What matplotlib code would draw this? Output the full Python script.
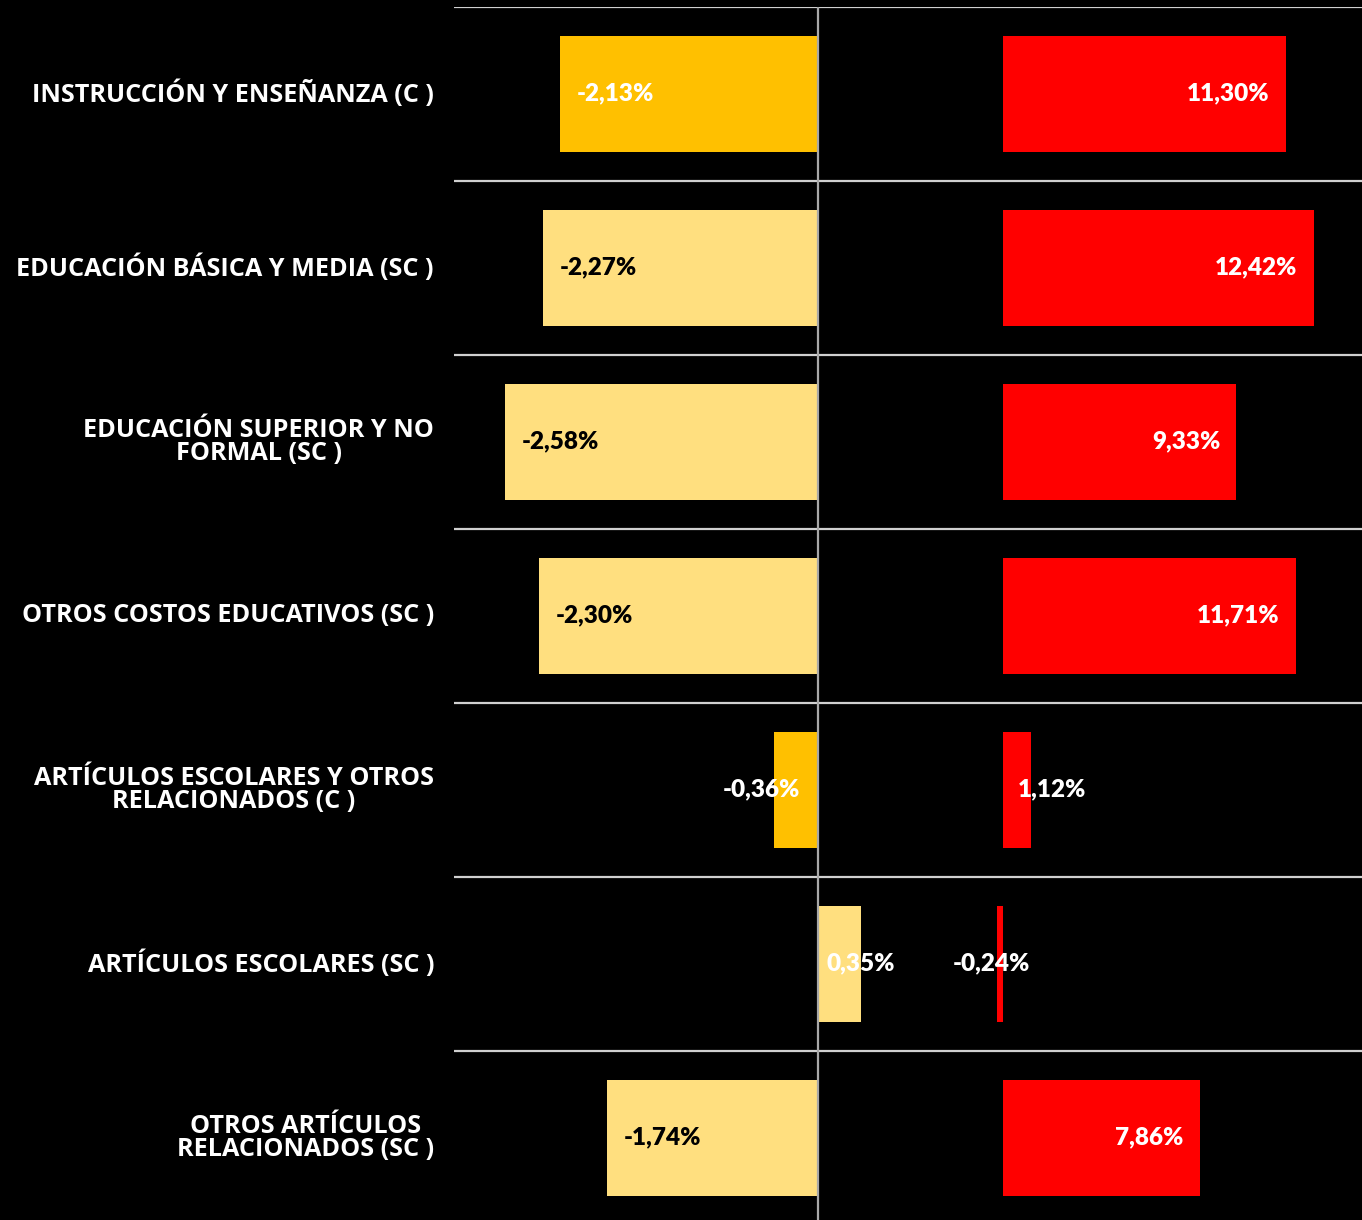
import numpy as np
import matplotlib
matplotlib.use("Agg")
import matplotlib.pyplot as plt

# datos
categorias = [
    "INSTRUCCIÓN Y ENSEÑANZA (C )",
    "EDUCACIÓN BÁSICA Y MEDIA (SC )",
    "EDUCACIÓN SUPERIOR Y NO\nFORMAL (SC )",
    "OTROS COSTOS EDUCATIVOS (SC )",
    "ARTÍCULOS ESCOLARES Y OTROS\nRELACIONADOS (C )",
    "ARTÍCULOS ESCOLARES (SC )",
    "OTROS ARTÍCULOS\nRELACIONADOS (SC )",
]
var_izq = [-2.13, -2.27, -2.58, -2.30, -0.36, 0.35, -1.74]
var_der = [11.30, 12.42, 9.33, 11.71, 1.12, -0.24, 7.86]
es_c = [True, False, False, False, True, False, False]

AMARILLO = "#FFC000"
AMARILLO_CLARO = "#FFDF7F"
ROJO = "#FF0000"
GRIS = "#D0D0D0"

W, H = 1362, 1220
fig = plt.figure(figsize=(W / 100, H / 100), dpi=100, facecolor="black")

top = 1 - 7 / H
bot = -5 / H
ax1 = fig.add_axes([454 / W, bot, (908 - 454) / W, top - bot])
ax2 = fig.add_axes([908 / W, bot, (W - 908) / W, top - bot])

y = np.arange(len(categorias))
for ax in (ax1, ax2):
    ax.set_facecolor("black")
    ax.set_ylim(len(categorias) - 0.5, -0.5)
    for s in ax.spines.values():
        s.set_visible(False)
    ax.set_xticks([])
    ax.set_yticks([])
    for b in np.arange(-0.5, len(categorias), 1.0):
        ax.axhline(b, color=GRIS, lw=1.6, zorder=1)

ax1.set_xlim(-3.0, 0.74)
ax2.set_xlim(-3.8, 14.36)

colores = [AMARILLO if c else AMARILLO_CLARO for c in es_c]
ax1.barh(y, var_izq, height=0.667, color=colores, zorder=2)
ax1.axvline(0, color="#A8A8A8", lw=1.6, zorder=3)
ax2.barh(y, var_der, height=0.667, color=ROJO, zorder=2)

fuente_num = ["Lato", "DejaVu Sans"]
fuente_cat = ["Open Sans", "DejaVu Sans"]
px = 72 / 100  # puntos por pixel


def fmt(v):
    return f"{v:.2f}".replace(".", ",") + "%"


for i, v in enumerate(var_izq):
    if abs(v) < 1:
        col = "white"
        if v < 0:
            x0, dx, ha = 0, -18 * px, "right"
        else:
            x0, dx, ha = 0, 8 * px, "left"
    else:
        col = "white" if es_c[i] else "black"
        x0, dx, ha = v, 17 * px, "left"
    ax1.annotate(fmt(v), (x0, i), xytext=(dx, 1 * px), textcoords="offset points",
                 ha=ha, va="center", color=col, fontsize=17.5, fontweight="heavy",
                 family=fuente_num, zorder=5)

for i, v in enumerate(var_der):
    if abs(v) < 2:
        if v > 0:
            x0, dx, ha = 0, 15 * px, "left"
        else:
            x0, dx, ha = 0, 27 * px, "right"
    else:
        x0, dx, ha = v, -16 * px, "right"
    ax2.annotate(fmt(v), (x0, i), xytext=(dx, 1 * px), textcoords="offset points",
                 ha=ha, va="center", color="white", fontsize=17.5, fontweight="heavy",
                 family=fuente_num, zorder=5)

for i, cat in enumerate(categorias):
    ax1.annotate(cat, (0, i), xycoords=("axes fraction", "data"),
                 xytext=(-20 * px, 0), textcoords="offset points",
                 ha="right", va="center", multialignment="center",
                 color="white", fontsize=18.2, fontweight="bold",
                 family=fuente_cat, linespacing=0.92, annotation_clip=False)

fig.savefig("out.png", dpi=100, facecolor="black")
